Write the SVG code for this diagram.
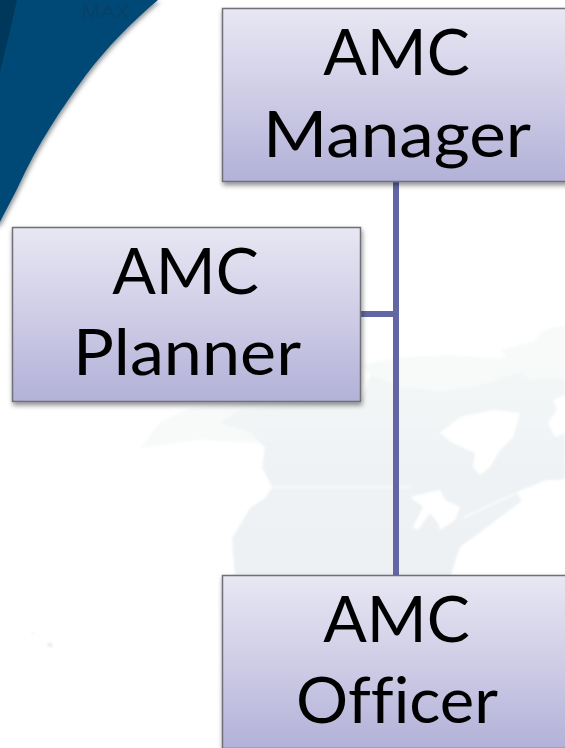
<svg xmlns="http://www.w3.org/2000/svg" width="565" height="748" viewBox="0 0 565 748">
<style>
.node{fill:url(#nodeFill);stroke:#6f6f78;stroke-width:1.5}
.label{font-family:"Lato","Open Sans",sans-serif;font-size:64.5px;fill:#000;text-anchor:middle;font-variant-ligatures:none}
.conn{stroke:#6266a4;stroke-width:6;fill:none}
.sea{fill:#fff}
.pale{fill:#f8fafa}
</style>
<defs>
<linearGradient id="nodeFill" x1="0" y1="0" x2="0" y2="1">
<stop offset="0" stop-color="#e8e7f3"/>
<stop offset="0.5" stop-color="#cfcde6"/>
<stop offset="1" stop-color="#b2b1d8"/>
</linearGradient>
<linearGradient id="land" x1="0" y1="0" x2="0" y2="1">
<stop offset="0" stop-color="#f4f7f7"/>
<stop offset="0.4" stop-color="#eff3f5"/>
<stop offset="1" stop-color="#edf1f3"/>
</linearGradient>
<filter id="shadow" x="-5%" y="-5%" width="110%" height="115%">
<feDropShadow dx="1" dy="3" stdDeviation="2.5" flood-color="#000" flood-opacity="0.45"/>
</filter>
<filter id="soft" x="-5%" y="-5%" width="110%" height="110%"><feGaussianBlur stdDeviation="1.3"/></filter>
<filter id="edge" x="-10%" y="-10%" width="120%" height="120%"><feDropShadow dx="2" dy="2" stdDeviation="2" flood-color="#3b4650" flood-opacity="0.55"/></filter>
</defs>
<rect width="565" height="748" fill="#fff"/>
<g id="background">
<g filter="url(#soft)">
<path class="pale" d="M360 365L400 357L450 355L500 358L527 350L543 330L565 325L565 400L400 400Z"/>
<path class="pale" d="M140 448L160 422L190 408L260 402L362 402L362 450L200 440Z"/>
<path fill="url(#land)" d="M183 435L220 423L240 410L362 398L370 375L400 385L440 392L480 385L520 372L565 380L565 478L530 495L483 530L460 547L450 578L235 578L232 538L240 525L250 508L265 498L272 487L262 468L265 448L250 432L220 423Z"/>
<path class="sea" d="M440 433L460 417L493 410L520 413L513 437L500 450L490 467L480 475L473 467L475 453L453 443Z"/>
<path class="sea" d="M410 497L440 490L445 500L460 507L455 520L440 530L438 523L430 513L418 530L413 527L423 507Z"/>
<path class="sea" d="M517 492L547 480L565 480L565 497L540 507L527 513Z"/>
<path class="sea" d="M553 400L565 395L565 433L555 437L548 423L557 410Z"/>
<path class="pale" d="M400 362L440 358L470 372L490 362L510 368L480 385L440 388L400 388Z"/>
<path class="pale" d="M500 350L530 342L565 350L565 375L530 380Z"/>
<path fill="none" stroke="#fbfcfc" stroke-width="1.4" d="M272 487L393 487M463 518L517 493M399 487L410 487"/>
<circle cx="50" cy="645" r="2.500" fill="#ececec"/>
<circle cx="33" cy="633" r="1.500" fill="#f3f3f3"/>
</g>
<path fill="#004a77" filter="url(#edge)" d="M-10 0L158 0C132 22 108 46 86 75C62 108 38 143 18 187C10 203 5 212 0 222L-10 230Z"/>
<path fill="#00385c" d="M0 0L17 0L9 35L0 72Z"/>
<text x="82" y="18" font-family="Liberation Sans,sans-serif" font-size="19" fill="#0a4066" textLength="48" lengthAdjust="spacingAndGlyphs">MAX</text>
</g>
<g id="connectors">
<path class="conn" d="M396 181V575"/>
<path class="conn" d="M360 314H396"/>
</g>
<g id="amc-manager">
<rect class="node" x="222.500" y="8.500" width="350" height="173" filter="url(#shadow)"/>
<text class="label" x="396.500" y="75">AMC</text>
<text class="label" x="397" y="157" textLength="268" lengthAdjust="spacingAndGlyphs">Manager</text>
</g>
<g id="amc-planner">
<rect class="node" x="12.500" y="227.500" width="348" height="174" filter="url(#shadow)"/>
<text class="label" x="185.500" y="294">AMC</text>
<text class="label" x="187" y="375" textLength="228" lengthAdjust="spacingAndGlyphs">Planner</text>
</g>
<g id="amc-officer">
<rect class="node" x="222.500" y="575.500" width="350" height="173" filter="url(#shadow)"/>
<text class="label" x="396.500" y="642">AMC</text>
<text class="label" x="397" y="723" textLength="202" lengthAdjust="spacingAndGlyphs">Officer</text>
</g>
</svg>
